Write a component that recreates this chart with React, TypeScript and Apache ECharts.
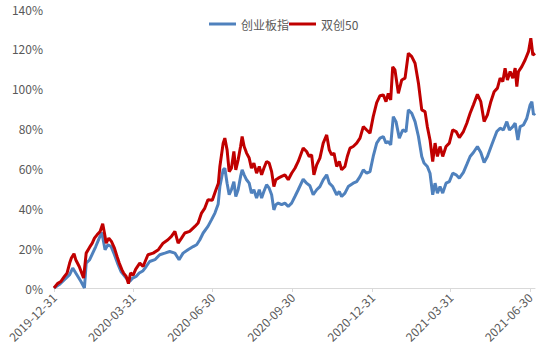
import React, { useEffect, useRef } from "react";
import * as echarts from "echarts";

const BASE_DATE = "2019-12-31";
const tickDates = ["2019-12-31", "2020-03-31", "2020-06-30", "2020-09-30", "2020-12-31", "2021-03-31", "2021-06-30"];
const seriesNames = ["创业板指", "双创50"];

// days since 2019-12-31 / cumulative return in %
const cybDays = [0, 6, 12, 18, 21.5, 25, 31, 35, 37, 41, 44.5, 48, 52, 55, 58.7, 62, 65.6, 69.5, 73, 77, 83, 87, 90.5, 94.4, 98, 102, 106, 110, 116, 121.6, 127.4, 133, 139, 143.8, 148.4, 154, 160, 164, 167.7, 171.5, 177, 181, 185, 188.7, 190.7, 194.5, 196.4, 199, 201.4, 204, 206.8, 209, 211.7, 214.5, 216.3, 218.6, 221.4, 224.4, 227, 229.8, 232.9, 236, 238.7, 241.3, 244.4, 247.4, 250.2, 252.8, 255, 257.8, 261.7, 265.5, 269.3, 273.2, 277, 280.8, 286.5, 290.4, 294.2, 298, 302, 305.7, 309.5, 313.5, 316.5, 320.4, 325, 328, 330.7, 334.5, 338.3, 344, 348, 351.8, 355.6, 359.5, 363.3, 367, 371, 374.8, 378.6, 381.7, 384.3, 387.1, 390.1, 393.2, 397, 400.9, 404.7, 407.4, 411.3, 415.1, 419, 422.8, 425.4, 429.2, 432.3, 435.4, 438.1, 440.8, 443.8, 446.9, 450.7, 454.5, 458.4, 462.3, 466, 470.7, 474.6, 478.4, 482.2, 486.8, 490.7, 494.5, 498.3, 503.4, 509.1, 512.9, 516.7, 520.6, 523.6, 527.5, 530.2, 533.3, 535.9, 539.7, 543.6, 547.4, 549.4, 551.3, 553];
const cybValues = [0, 1.7, 4.2, 6.7, 10, 7.5, 3.3, 0, 12.5, 14.2, 17.5, 20.8, 25, 27.9, 19.2, 21.7, 20.8, 16.7, 12.5, 8.3, 5, 3.3, 5, 5.8, 7.5, 8.5, 10.8, 13.3, 14.2, 16.7, 17.5, 18.3, 17.5, 14.2, 17.5, 19.2, 20.8, 21.7, 24.2, 27.6, 30.9, 34.2, 37.6, 42, 50.9, 59.3, 60.1, 52.6, 46.8, 49.3, 53.4, 45.9, 49.3, 56, 59.3, 56.8, 54.3, 52.6, 47.6, 49.3, 45.1, 49.3, 45.1, 48.4, 51.8, 50.1, 46.8, 39.2, 41.8, 42.6, 41.8, 42.6, 40.9, 42.6, 45.9, 49.3, 54.6, 52.6, 51.3, 46.8, 49.3, 50.9, 54.3, 56.8, 52.6, 50.9, 46.8, 48.4, 45.9, 47.6, 50.9, 52.6, 53.4, 55.9, 59.3, 57.6, 58.4, 66, 72.7, 75.2, 76, 72.7, 73.5, 71.8, 86, 83.5, 75.2, 79.3, 78.5, 89.4, 87.7, 83.5, 76, 66, 62.7, 61, 57.6, 46.8, 52.6, 47.6, 50.9, 47.6, 52.6, 53.4, 57.6, 56.8, 55.1, 58, 62, 66, 68, 71, 68, 63, 66, 72, 78.5, 80.2, 79.3, 83.5, 79.3, 81, 82.7, 74.3, 81, 81.8, 85.2, 91.9, 93.5, 86.9, 87.7];

const sc50Days = [0, 4, 8, 12, 15, 18, 20, 23, 25, 29, 34, 37, 41, 44, 46.5, 49.5, 53, 56, 58, 60, 63, 66, 69.5, 72.5, 75, 78, 80, 83, 85.6, 88, 91, 94, 98.6, 102.4, 108, 114, 120, 125.4, 131, 135, 139, 142.7, 146.6, 150.4, 156, 162, 165.7, 169.6, 173.4, 177, 182, 186, 189, 190.7, 194.5, 196.4, 199, 201.4, 204, 206.8, 209, 211.7, 214.5, 216.3, 218.6, 221.4, 224.4, 227, 229.8, 232.9, 236, 238.7, 241.3, 244.4, 247.4, 250.2, 252.8, 255, 257.8, 261.7, 265.5, 269.3, 273.2, 277, 280.8, 286.5, 290.4, 293.4, 296.2, 298.8, 302, 305.7, 309.5, 313.5, 316.5, 319.2, 321.9, 325, 328, 330.7, 334.5, 337.2, 340.3, 344, 348, 351.8, 355.6, 359.5, 363.3, 367, 371, 374.8, 378.6, 381.7, 384.3, 387.1, 389.4, 392, 395.9, 399.8, 403.6, 407.4, 411.3, 415.1, 419, 422.8, 426.6, 429.2, 432.3, 435.4, 438.1, 440.8, 443.8, 446.9, 450.7, 454.5, 458.4, 462.3, 466, 470.7, 474.6, 478.4, 482.2, 486.8, 490.7, 494.5, 498.3, 502.2, 506, 509.8, 512.9, 516, 518.6, 521.3, 524.4, 527.5, 530.2, 532.1, 534, 537.8, 541.6, 545.5, 548.2, 550.5, 553];
const sc50Values = [0, 2.2, 3.3, 5.8, 7.5, 12.5, 15, 17.2, 14.2, 10.8, 5, 17.5, 20.5, 22.5, 25, 26.7, 28.4, 32.2, 27.6, 22.5, 25, 23.4, 20, 15.8, 12.5, 9.2, 7.5, 5.8, 2.2, 7.5, 6.5, 9.5, 12.5, 10.8, 16.7, 17.5, 19.2, 22.5, 24.2, 25.9, 28.4, 22.5, 25, 27.6, 28.4, 30.9, 32.6, 37.6, 40.1, 44.3, 44, 49, 52.6, 61, 72.7, 75.2, 69.3, 58.4, 60.1, 68.5, 59.3, 64.3, 71, 76, 71, 67.7, 65.2, 60.1, 62.7, 57.6, 61, 56.8, 60.1, 63.5, 62.7, 58.4, 50.9, 54.3, 55.1, 56, 56.8, 54.3, 57.6, 60.1, 63.5, 70.2, 68.5, 66, 66.8, 56.8, 61.8, 65.2, 72.7, 76.8, 69.3, 66.8, 67.7, 61, 63.5, 59.3, 61, 66, 70.2, 71, 72.7, 75.2, 81, 79.3, 77.7, 86, 93, 96.5, 96.9, 93.5, 97.7, 94.4, 111, 109.4, 97.7, 104.4, 105.3, 117.8, 116.1, 112.8, 102.8, 89.4, 88.5, 81, 74.3, 63.5, 72.7, 66, 71, 66, 71, 72.7, 79.3, 78.5, 75.5, 78.5, 82.7, 87.7, 91.9, 97.2, 93.5, 83.5, 86.9, 93.5, 98.5, 100.3, 105.3, 103.6, 110.3, 104.4, 108.6, 105.3, 110.3, 101.1, 108.6, 111.1, 114.4, 118.6, 125.3, 116.9, 117.8];

const X_MAX_DAYS = 553;
const yTicks = [0, 20, 40, 60, 80, 100, 120, 140];

const dayOffset = (d: string) => Math.round((Date.parse(d) - Date.parse(BASE_DATE)) / 86400000);

export default function App() {
  const ref = useRef<HTMLDivElement>(null);
  useEffect(() => {
    if (!ref.current) return;
    const chart = echarts.init(ref.current, null, { renderer: "svg" });
    const tickDays = tickDates.map(dayOffset);
    const font = "'Noto Sans CJK SC', 'Noto Sans', sans-serif";
    chart.setOption({
      animation: false,
      textStyle: { fontFamily: font },
      legend: {
        left: 204,
        top: 13,
        icon: "rect",
        itemWidth: 27,
        itemHeight: 3,
        itemGap: 0,
        textStyle: { fontSize: 12, color: "#595959", fontFamily: font },
        data: seriesNames,
      },
      grid: { left: 54, right: 19, top: 9, bottom: 71 },
      xAxis: {
        type: "value",
        min: 0,
        max: X_MAX_DAYS,
        splitLine: { show: false },
        axisLine: { show: true, lineStyle: { color: "#D9D9D9", width: 1 } },
        axisTick: { show: true, length: 4, lineStyle: { color: "#D9D9D9" }, customValues: tickDays },
        axisLabel: {
          customValues: tickDays,
          rotate: 45,
          margin: 7,
          fontSize: 12,
          color: "#595959",
          fontFamily: font,
          formatter: (v: number) => {
            const i = tickDays.indexOf(Math.round(v));
            return i >= 0 ? tickDates[i] : "";
          },
        },
      },
      yAxis: {
        type: "value",
        min: yTicks[0],
        max: yTicks[yTicks.length - 1],
        interval: 20,
        axisLine: { show: false },
        axisTick: { show: false },
        splitLine: { show: false },
        axisLabel: { formatter: "{value}%", fontSize: 12, color: "#595959", margin: 11, fontFamily: font },
      },
      series: [
        {
          name: seriesNames[0],
          type: "line",
          showSymbol: false,
          symbol: "none",
          data: cybDays.map((d, i) => [d, cybValues[i]]),
          lineStyle: { color: "#4F81BD", width: 3 },
          itemStyle: { color: "#4F81BD" },
        },
        {
          name: seriesNames[1],
          type: "line",
          showSymbol: false,
          symbol: "none",
          data: sc50Days.map((d, i) => [d, sc50Values[i]]),
          lineStyle: { color: "#C00000", width: 3 },
          itemStyle: { color: "#C00000" },
        },
      ],
    });
    return () => chart.dispose();
  }, []);
  return <div ref={ref} style={{ width: 554, height: 359, position: "absolute", left: 0, top: 0 }} />;
}
